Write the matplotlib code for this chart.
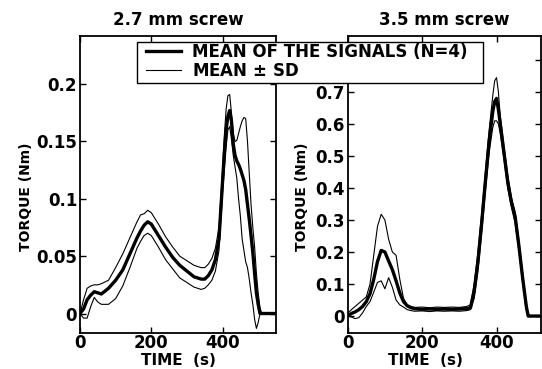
import matplotlib
matplotlib.use('Agg')
import matplotlib.pyplot as plt
from matplotlib.patches import Rectangle

# 2.7 mm screw (left panel)
t_27 = [0, 10, 20, 30, 40, 50, 60, 80, 100, 120, 140, 160, 170, 180, 190, 200, 210, 220,
        240, 260, 280, 300, 320, 340, 350, 360, 370, 380, 390, 400, 405, 410, 415, 420,
        425, 430, 435, 440, 445, 450, 455, 460, 465, 470, 475, 480, 485, 490, 495, 500,
        505, 510, 550]
mean_27 = [0.0, 0.004, 0.012, 0.016, 0.019, 0.018, 0.017, 0.022, 0.029, 0.038, 0.052, 0.066,
           0.072, 0.077, 0.080, 0.078, 0.073, 0.068, 0.058, 0.049, 0.042, 0.037, 0.032, 0.030,
           0.030, 0.033, 0.038, 0.047, 0.065, 0.115, 0.140, 0.160, 0.172, 0.177, 0.168, 0.148,
           0.138, 0.133, 0.130, 0.126, 0.121, 0.116, 0.108, 0.095, 0.082, 0.068, 0.053, 0.035,
           0.018, 0.008, 0.0, 0.0, 0.0]
upper_27 = [0.0, 0.012, 0.022, 0.024, 0.025, 0.025, 0.026, 0.029, 0.040, 0.052, 0.066, 0.080,
            0.086, 0.087, 0.090, 0.088, 0.083, 0.078, 0.067, 0.058, 0.050, 0.046, 0.042, 0.040,
            0.040, 0.043, 0.048, 0.057, 0.075, 0.125, 0.155, 0.178, 0.190, 0.191, 0.175, 0.157,
            0.150, 0.151, 0.157, 0.163, 0.168, 0.171, 0.170, 0.150, 0.122, 0.095, 0.075, 0.058,
            0.035, 0.018, 0.005, 0.0, 0.0]
lower_27 = [0.0, -0.004, -0.004, 0.006, 0.014, 0.010, 0.008, 0.008, 0.013, 0.024, 0.040, 0.057,
            0.063, 0.068, 0.070, 0.068, 0.063, 0.058, 0.047, 0.039, 0.031, 0.027, 0.023, 0.021,
            0.022, 0.025, 0.029, 0.037, 0.055, 0.105, 0.125, 0.145, 0.160, 0.163, 0.152, 0.138,
            0.128, 0.118, 0.100, 0.085, 0.065, 0.055, 0.045, 0.040, 0.030, 0.018, 0.008, -0.005,
            -0.013, -0.008, 0.0, 0.0, 0.0]

# 3.5 mm screw (right panel)
t_35 = [0, 10, 20, 30, 40, 50, 60, 70, 80, 90, 100, 110, 120, 130, 140, 150, 160, 170, 180,
        200, 220, 240, 260, 280, 300, 320, 330, 340, 350, 360, 370, 380, 390, 395, 400, 405,
        410, 420, 430, 440, 450, 460, 470, 480, 485, 490, 520]
mean_35 = [0.0, 0.008, 0.013, 0.020, 0.030, 0.045, 0.070, 0.115, 0.170, 0.205, 0.200, 0.172,
           0.145, 0.110, 0.072, 0.045, 0.032, 0.026, 0.023, 0.021, 0.022, 0.021, 0.022, 0.021,
           0.022, 0.023, 0.026, 0.080, 0.170, 0.290, 0.420, 0.545, 0.640, 0.670, 0.680, 0.645,
           0.600, 0.510, 0.420, 0.355, 0.310, 0.220, 0.120, 0.030, 0.0, 0.0, 0.0]
upper_35 = [0.008, 0.020, 0.030, 0.040, 0.050, 0.060, 0.100, 0.190, 0.280, 0.318, 0.300, 0.240,
            0.200, 0.190, 0.115, 0.055, 0.035, 0.030, 0.027, 0.028, 0.026, 0.028, 0.027, 0.028,
            0.027, 0.030, 0.035, 0.100, 0.200, 0.320, 0.450, 0.580, 0.690, 0.735, 0.745, 0.700,
            0.625, 0.530, 0.440, 0.370, 0.325, 0.235, 0.135, 0.040, 0.0, 0.0, 0.0]
lower_35 = [0.0, -0.003, -0.008, -0.005, 0.010, 0.030, 0.045, 0.075, 0.105, 0.110, 0.085, 0.120,
            0.090, 0.050, 0.035, 0.028, 0.020, 0.017, 0.015, 0.016, 0.014, 0.016, 0.015, 0.016,
            0.015, 0.017, 0.020, 0.055, 0.140, 0.260, 0.390, 0.510, 0.590, 0.610, 0.610, 0.600,
            0.570, 0.490, 0.400, 0.340, 0.290, 0.205, 0.105, 0.020, 0.0, 0.0, 0.0]

plt.rcParams['font.family'] = 'DejaVu Sans'
plt.rcParams['font.weight'] = 'bold'
plt.rcParams['axes.labelweight'] = 'bold'
plt.rcParams['axes.titleweight'] = 'bold'
plt.rcParams['font.size'] = 12

W, H = 542.0, 369.0
fig = plt.figure(figsize=(5.42, 3.69), dpi=100)
ax1 = fig.add_axes([80 / W, 1 - 333 / H, 196 / W, 297 / H])
ax2 = fig.add_axes([347.7 / W, 1 - 333 / H, 193.5 / W, 297 / H])


def panel(ax, t, m, up, lo, title, xmax, ylim, yticks, ylabs, xlab_x, ylab_x):
    ax.plot(t, m, color='black', lw=2.4)
    ax.plot(t, up, color='black', lw=0.8)
    ax.plot(t, lo, color='black', lw=0.8)
    ax.set_xlim(0, xmax)
    ax.set_ylim(*ylim)
    ax.set_xticks([0, 200, 400])
    ax.set_yticks(yticks)
    ax.set_yticklabels(ylabs)
    ax.tick_params(direction='in', length=4, width=1, top=True, right=True, pad=2)
    ax.tick_params(axis='x', pad=0.5)
    for s in ax.spines.values():
        s.set_linewidth(1.3)
    ax.set_title(title, fontsize=12, pad=8)
    ax.set_xlabel('TIME  (s)', fontsize=11)
    ax.xaxis.set_label_coords(xlab_x, -0.066)
    ax.set_ylabel('TORQUE (Nm)', fontsize=10)
    ax.yaxis.set_label_coords(ylab_x, 0.46)


panel(ax1, t_27, mean_27, upper_27, lower_27, '2.7 mm screw', 550,
      (-0.017, 0.242), [0, 0.05, 0.1, 0.15, 0.2], ['0', '0.05', '0.1', '0.15', '0.2'],
      0.5, -0.24)
panel(ax2, t_35, mean_35, upper_35, lower_35, '3.5 mm screw', 520,
      (-0.053, 0.875), [0, 0.1, 0.2, 0.3, 0.4, 0.5, 0.6, 0.7, 0.8],
      ['0', '0.1', '0.2', '0.3', '0.4', '0.5', '0.6', '0.7', ''],
      0.40, -0.2)

# legend box spanning both panels
box = Rectangle((137 / W, 1 - 83 / H), 346 / W, 41 / H, transform=fig.transFigure,
                facecolor='white', edgecolor='black', lw=1.0, zorder=4.9)
fig.patches.append(box)

h1, = ax1.plot([], [], color='black', lw=2.4)
h2, = ax1.plot([], [], color='black', lw=0.8)
leg = fig.legend([h1, h2], ['MEAN OF THE SIGNALS (N=4)', r'MEAN $\pm$ SD'],
                 loc='upper left', bbox_to_anchor=(146 / W, 1 - 43 / H), borderaxespad=0,
                 frameon=False, fontsize=12, handlelength=2.1, handletextpad=0.65,
                 borderpad=0, labelspacing=0.05)
leg.set_zorder(5)

fig.savefig('out.png', dpi=100)
